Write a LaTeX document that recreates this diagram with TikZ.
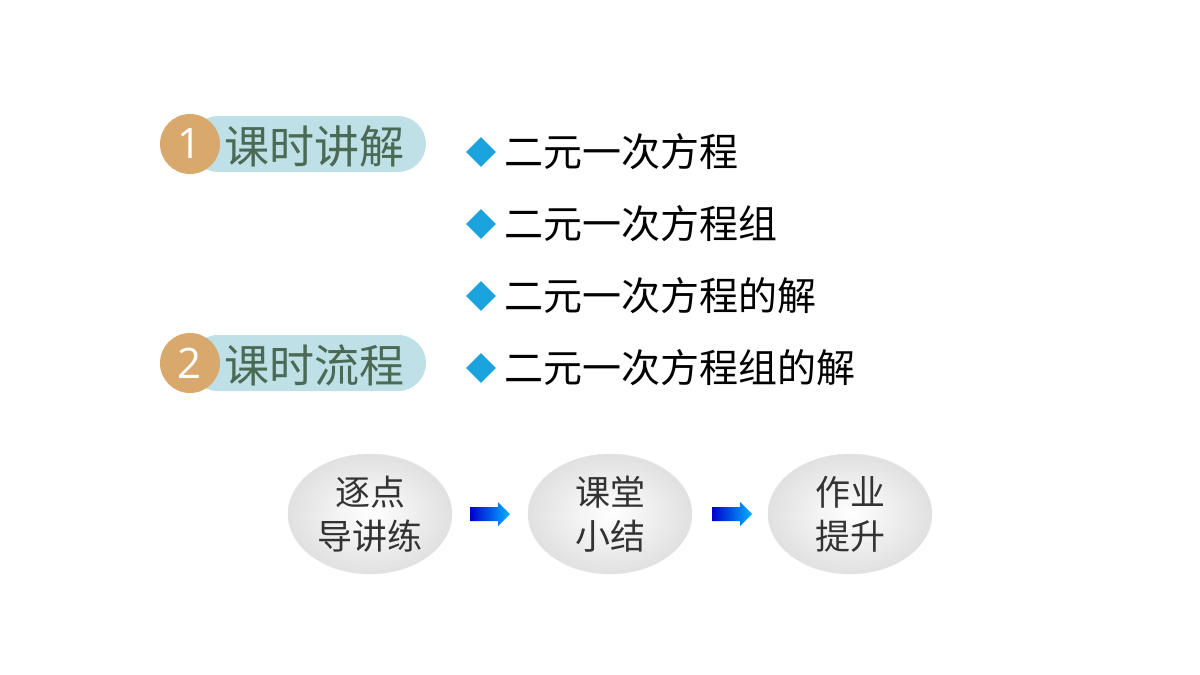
\documentclass[tikz,border=0pt]{standalone}
\usepackage{fontspec}
\newfontfamily\cjk{Noto Sans CJK SC}
\setmainfont{Open Sans}
\usetikzlibrary{shapes.geometric,shadings}
\definecolor{pill}{HTML}{BFE0E6}
\definecolor{badge}{HTML}{D9A86C}
\definecolor{head}{HTML}{4A6A55}
\definecolor{dia}{HTML}{1AA3DD}
\begin{document}
\begin{tikzpicture}[x=1pt,y=-1pt,
 pillst/.style={fill=pill,rounded corners=28pt},
 badgest/.style={circle,fill=badge,minimum size=60pt,inner sep=0pt,text=white,font=\fontsize{42}{42}\selectfont},
 headst/.style={anchor=west,text=head,font=\cjk\fontsize{45}{45}\selectfont,inner sep=0pt},
 item/.style={anchor=west,font=\cjk\fontsize{39}{39}\selectfont,inner sep=0pt},
 diast/.style={diamond,fill=dia,minimum size=30pt,inner sep=0pt},
 oval/.style={ellipse,minimum width=164pt,minimum height=120pt,draw=black!10,inner color=white,outer color=black!12,align=center,font=\cjk\fontsize{35}{44}\selectfont,text=black!80},
 arr/.style={left color=blue!80!black,right color=cyan!70!blue}]
\useasboundingbox (0,0) rectangle (1200,675);
\fill[pillst] (190,116) rectangle (426,172);
\node[badgest] (b1) at (190,144) {1};
\node[headst] (h1) at (224,146) {课时讲解};
\fill[pillst] (190,335) rectangle (426,391);
\node[badgest] (b2) at (190,363) {2};
\node[headst] (h2) at (224,365) {课时流程};
\foreach \y/\t [count=\i] in {152/二元一次方程,224/二元一次方程组,296/二元一次方程的解,368/二元一次方程组的解}{
 \node[diast] (d\i) at (481,\y) {};
 \node[item] (t\i) at (504,\y) {\t};}
\node[oval] (o1) at (370,514) {逐点\\导讲练};
\node[oval] (o2) at (610,514) {课堂\\小结};
\node[oval] (o3) at (850,514) {作业\\提升};
\foreach \a in {470,712}{
 \shade[arr] (\a,507) -- (\a+28,507) -- (\a+28,502) -- (\a+40,514) -- (\a+28,526) -- (\a+28,521) -- (\a,521) -- cycle;}
\end{tikzpicture}
\end{document}
